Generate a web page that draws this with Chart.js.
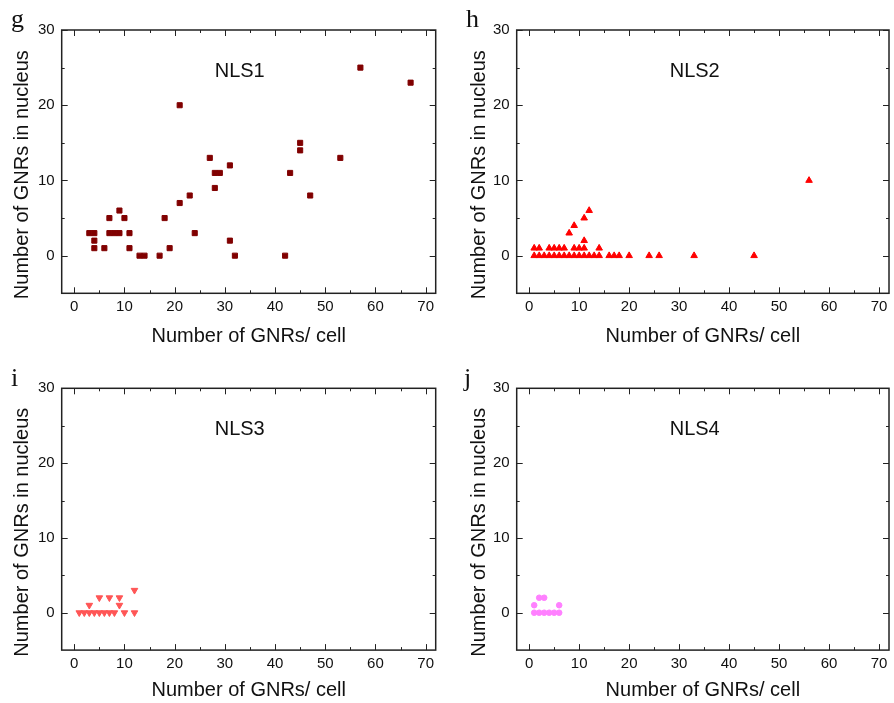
<!DOCTYPE html>
<html>
<head>
<meta charset="utf-8">
<script src="https://cdn.jsdelivr.net/npm/chart.js@4.4.0/dist/chart.umd.min.js"></script>
<style>
  body { margin: 0; background: #fff; }
  #wrap { position: relative; width: 894px; height: 703px; }
  .panel { position: absolute; }
</style>
</head>
<body>
<div id="wrap">
  <div class="panel" style="left:0;top:0;width:447px;height:351px"><canvas id="chartG"></canvas></div>
  <div class="panel" style="left:447px;top:0;width:447px;height:351px"><canvas id="chartH"></canvas></div>
  <div class="panel" style="left:0;top:351px;width:447px;height:352px"><canvas id="chartI"></canvas></div>
  <div class="panel" style="left:447px;top:351px;width:447px;height:352px"><canvas id="chartJ"></canvas></div>
</div>
<script>
// axis ticks
const xTicks = [0, 10, 20, 30, 40, 50, 60, 70];
const xMinor = [5, 15, 25, 35, 45, 55, 65];
const yTicks = [0, 10, 20, 30];
const yMinor = [5, 15, 25];
const xTitle = 'Number of GNRs/ cell';
const yTitle = 'Number of GNRs in nucleus';

// NLS1 (panel g)
const nls1Cells   = [3,4,4,4,6,7,7,8,9,9,10,11,11,13,14,17,18,19,21,21,23,24,27,28,28,29,31,31,32,42,43,45,45,47,53,57,67];
const nls1Nucleus = [3,3,2,1,1,5,3,3,3,6,5,3,1,0,0,0,5,1,20,7,8,3,13,11,9,11,12,2,0,0,11,15,14,8,13,25,23];

// NLS2 (panel h)
const nls2Cells   = [1,2,3,4,5,6,7,8,9,10,11,12,13,14,16,17,18,20,24,26,33,45,
                     1,2,4,5,6,7,9,10,11,14, 11,8,9,11,12,56];
const nls2Nucleus = [0,0,0,0,0,0,0,0,0,0,0,0,0,0,0,0,0,0,0,0,0,0,
                     1,1,1,1,1,1,1,1,1,1, 2,3,4,5,6,10];

// NLS3 (panel i)
const nls3Cells   = [1,2,3,4,5,6,7,8,10,12, 3,9,5,7,9,12];
const nls3Nucleus = [0,0,0,0,0,0,0,0,0,0, 1,1,2,2,2,3];

// NLS4 (panel j)
const nls4Cells   = [1,2,3,4,5,6, 1,6,2,3];
const nls4Nucleus = [0,0,0,0,0,0, 1,1,2,2];

const sans = "Arial, 'Liberation Sans', sans-serif";
const serif = "'Times New Roman', 'Liberation Serif', serif";

// frame, inward ticks, y title, panel letter and series name
const decoPlugin = {
  id: 'panelDeco',
  afterDraw(chart, args, opts) {
    const ctx = chart.ctx;
    const a = chart.chartArea;
    const x = chart.scales.x;
    const y = chart.scales.y;
    ctx.save();
    ctx.strokeStyle = '#222';
    ctx.lineWidth = 1.5;
    ctx.strokeRect(a.left, a.top, a.right - a.left, a.bottom - a.top);

    ctx.lineWidth = 1;
    ctx.beginPath();
    const tickX = (v, len) => {
      const px = Math.round(x.getPixelForValue(v)) + 0.5;
      ctx.moveTo(px, a.bottom); ctx.lineTo(px, a.bottom - len);
      ctx.moveTo(px, a.top); ctx.lineTo(px, a.top + len);
    };
    const tickY = (v, len) => {
      const py = Math.round(y.getPixelForValue(v)) + 0.5;
      ctx.moveTo(a.left, py); ctx.lineTo(a.left + len, py);
      ctx.moveTo(a.right, py); ctx.lineTo(a.right - len, py);
    };
    xTicks.forEach(v => tickX(v, 6));
    xMinor.forEach(v => tickX(v, 3));
    yTicks.forEach(v => tickY(v, 6));
    yMinor.forEach(v => tickY(v, 3));
    ctx.stroke();

    ctx.fillStyle = '#111';
    // y axis title
    ctx.save();
    ctx.translate(opts.yTitleX, (a.top + a.bottom) / 2 + 13);
    ctx.rotate(-Math.PI / 2);
    ctx.font = '20px ' + sans;
    ctx.textAlign = 'center';
    ctx.textBaseline = 'middle';
    ctx.fillText(yTitle, 0, 0);
    ctx.restore();

    // series name inside the plot
    ctx.font = '20px ' + sans;
    ctx.textAlign = 'center';
    ctx.textBaseline = 'middle';
    ctx.fillText(opts.name, a.left + 178, a.top + 41);

    // panel letter
    ctx.font = '26px ' + serif;
    ctx.textAlign = 'left';
    ctx.textBaseline = 'alphabetic';
    ctx.fillText(opts.letter, opts.letterX, opts.letterY);
    ctx.restore();
  }
};

function makePanel(id, letter, name, cells, nucleus, look, box) {
  const points = cells.map((c, i) => ({ x: c, y: nucleus[i] }));
  return new Chart(document.getElementById(id), {
    type: 'scatter',
    data: {
      datasets: [{
        label: name,
        data: points,
        pointStyle: look.style,
        pointRotation: look.rotation,
        pointRadius: look.radius,
        pointBackgroundColor: look.color,
        pointBorderColor: look.color,
        pointBorderWidth: 1
      }]
    },
    options: {
      responsive: true,
      maintainAspectRatio: false,
      animation: false,
      devicePixelRatio: 1,
      layout: { padding: { top: box.top, right: box.right, left: 0, bottom: 0 } },
      plugins: {
        legend: { display: false },
        tooltip: { enabled: false },
        panelDeco: { letter: letter, name: name, letterX: box.letterX, letterY: box.letterY, yTitleX: box.yTitleX }
      },
      scales: {
        x: {
          type: 'linear',
          min: -2.5,
          max: 72,
          afterBuildTicks: s => { s.ticks = xTicks.map(v => ({ value: v })); },
          afterFit: s => { s.height = box.xh; },
          grid: { display: false, drawTicks: false },
          border: { display: false },
          ticks: { color: '#111', font: { size: 15, family: sans }, padding: 5, maxRotation: 0 },
          title: { display: true, text: xTitle, color: '#111', font: { size: 20, family: sans }, padding: { top: 0, bottom: box.xtPad } }
        },
        y: {
          type: 'linear',
          min: -5,
          max: 30,
          afterBuildTicks: s => { s.ticks = yTicks.map(v => ({ value: v })); },
          afterFit: s => { s.width = box.yw; },
          grid: { display: false, drawTicks: false },
          border: { display: false },
          ticks: { color: '#111', font: { size: 15, family: sans }, padding: 7 }
        }
      }
    },
    plugins: [decoPlugin]
  });
}

window.addEventListener('DOMContentLoaded', () => {
  makePanel('chartG', 'g', 'NLS1', nls1Cells, nls1Nucleus,
    { style: 'rect', rotation: 0, radius: 3.6, color: '#800000' },
    { top: 30, right: 11.3, yw: 61.7, xh: 57.7, xtPad: 3, letterX: 11, letterY: 27, yTitleX: 22 });
  makePanel('chartH', 'h', 'NLS2', nls2Cells, nls2Nucleus,
    { style: 'triangle', rotation: 0, radius: 3.8, color: '#ff0000' },
    { top: 30, right: 3.5, yw: 69.7, xh: 57.7, xtPad: 3, letterX: 19, letterY: 27, yTitleX: 32 });
  makePanel('chartI', 'i', 'NLS3', nls3Cells, nls3Nucleus,
    { style: 'triangle', rotation: 180, radius: 3.8, color: '#ff5555' },
    { top: 37.3, right: 11.3, yw: 61.7, xh: 52.9, xtPad: 1, letterX: 11, letterY: 35, yTitleX: 22 });
  makePanel('chartJ', 'j', 'NLS4', nls4Cells, nls4Nucleus,
    { style: 'circle', rotation: 0, radius: 2.8, color: '#ff80ff' },
    { top: 37.3, right: 3.5, yw: 69.7, xh: 52.9, xtPad: 1, letterX: 17, letterY: 35, yTitleX: 32 });
});
</script>
</body>
</html>
